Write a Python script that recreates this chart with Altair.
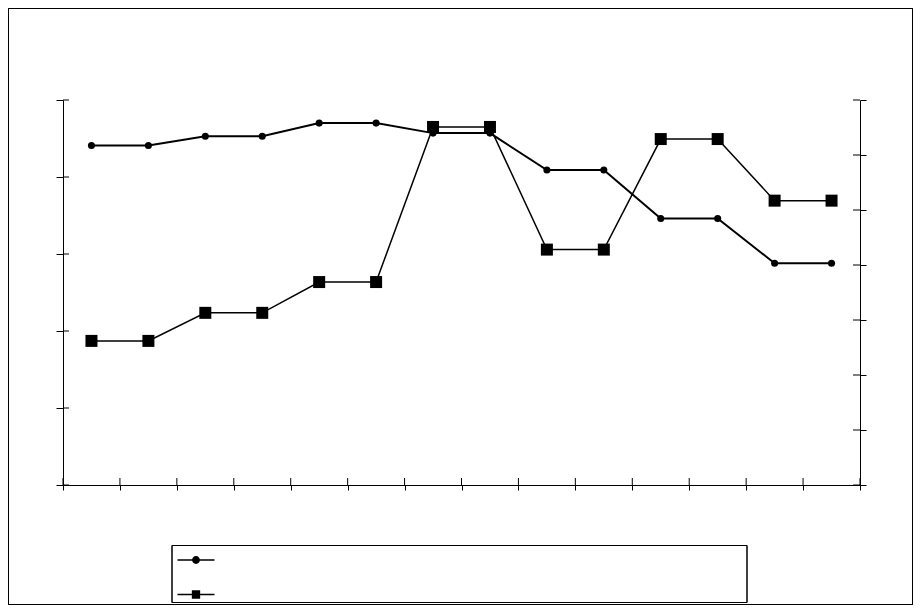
import altair as alt
import pandas as pd

# ---- data ----
positions = list(range(14))
series_names = ["Series 1", "Series 2"]
circle_values = [4.41, 4.41, 4.53, 4.53, 4.70, 4.70, 4.57, 4.57, 4.09, 4.09, 3.46, 3.46, 2.88, 2.88]
square_values = [2.62, 2.62, 3.13, 3.13, 3.69, 3.69, 6.51, 6.51, 4.28, 4.28, 6.29, 6.29, 5.17, 5.17]
x_ticks = list(range(15))
left_ticks = [0, 1, 2, 3, 4, 5]
right_ticks = [0, 1, 2, 3, 4, 5, 6, 7]

W, H = 797, 385
PAD = {"left": 55, "top": 92, "right": 53, "bottom": 120}

df1 = pd.DataFrame({"x": [p + 0.5 for p in positions], "v": circle_values})
df2 = pd.DataFrame({"x": [p + 0.5 for p in positions], "v": square_values})
xt = pd.DataFrame({"t": x_ticks})
lt = pd.DataFrame({"t": left_ticks})
rt = pd.DataFrame({"t": right_ticks})
legdf = pd.DataFrame({"s": series_names})

xscale = alt.Scale(domain=[0, 14], nice=False, zero=False)
lscale = alt.Scale(domain=[0, 5], nice=False)
rscale = alt.Scale(domain=[0, 7], nice=False)

common = dict(labels=False, title=None, grid=False, domain=True, ticks=True,
              domainColor="black", tickColor="black", domainWidth=1, tickWidth=1)
xaxis = alt.Axis(values=x_ticks, tickSize=5, orient="bottom", **common)
laxis = alt.Axis(values=left_ticks, tickSize=7, orient="left", **common)
raxis = alt.Axis(values=right_ticks, tickSize=6, orient="right", **common)

X = lambda f: alt.X(f, scale=xscale, axis=xaxis)
YL = lambda f: alt.Y(f, scale=lscale, axis=laxis)
YR = lambda f: alt.Y(f, scale=rscale, axis=raxis)

# left group
c_line = alt.Chart(df1).mark_line(color="black", strokeWidth=2).encode(x=X("x:Q"), y=YL("v:Q"))
c_pts = alt.Chart(df1).mark_point(filled=True, shape="circle", size=50, color="black", opacity=1).encode(
    x=X("x:Q"), y=YL("v:Q"))
l_in = alt.Chart(lt).mark_rule(color="black", strokeWidth=1).encode(
    y=YL("t:Q"), x=alt.value(0), x2=alt.value(6))
x_in = alt.Chart(xt).mark_rule(color="black", strokeWidth=1).encode(
    x=X("t:Q"), y=alt.value(H - 7), y2=alt.value(H))
border = alt.Chart(legdf).mark_rect(fill=None, stroke="black", strokeWidth=1).encode(
    x=alt.value(-PAD["left"] + 0.5), x2=alt.value(W + PAD["right"] - 0.5),
    y=alt.value(-PAD["top"] + 0.5), y2=alt.value(H + PAD["bottom"] - 0.5),
)
legbox = alt.Chart(legdf).mark_rect(fill=None, stroke="black", strokeWidth=1).encode(
    x=alt.value(109), x2=alt.value(684), y=alt.value(445.5), y2=alt.value(502.5)
)

# legend symbols: a thin filled bar (the line) plus the marker, all drawn clockwise
bar = "M-1.6,-0.065L1.6,-0.065L1.6,0.065L-1.6,0.065Z"
circle_path = bar + "M-0.34,0A0.34,0.34 0 1,1 0.34,0A0.34,0.34 0 1,1 -0.34,0Z"
square_path = bar + "M-0.36,-0.36L0.36,-0.36L0.36,0.36L-0.36,0.36Z"
legend_layer = alt.Chart(legdf).mark_point(filled=True, opacity=1).encode(
    shape=alt.Shape("s:N", scale=alt.Scale(domain=series_names, range=[circle_path, square_path]),
                    legend=alt.Legend(orient="none", legendX=121, legendY=448, title=None,
                                      labelExpr="''", symbolSize=535, symbolStrokeWidth=0,
                                      symbolFillColor="black", symbolStrokeColor="black",
                                      symbolOpacity=1, rowPadding=17.5, padding=0)),
    fill=alt.value("black"),
).transform_filter("false")

left_group = alt.layer(border, legbox, x_in, l_in, c_line, c_pts, legend_layer)

# right group
s_line = alt.Chart(df2).mark_line(color="black", strokeWidth=1.5).encode(x=X("x:Q"), y=YR("v:Q"))
s_pts = alt.Chart(df2).mark_point(filled=True, shape="square", size=144, color="black", opacity=1).encode(
    x=X("x:Q"), y=YR("v:Q"))
r_in = alt.Chart(rt).mark_rule(color="black", strokeWidth=1).encode(
    y=YR("t:Q"), x=alt.value(W - 7), x2=alt.value(W))
right_group = alt.layer(r_in, s_line, s_pts)

chart = alt.layer(left_group, right_group).resolve_scale(y="independent").properties(
    width=W, height=H, padding=PAD, autosize="none", background="white"
).configure_view(stroke=None)

chart.save("out.html", embed_options={"renderer": "svg", "actions": False})
